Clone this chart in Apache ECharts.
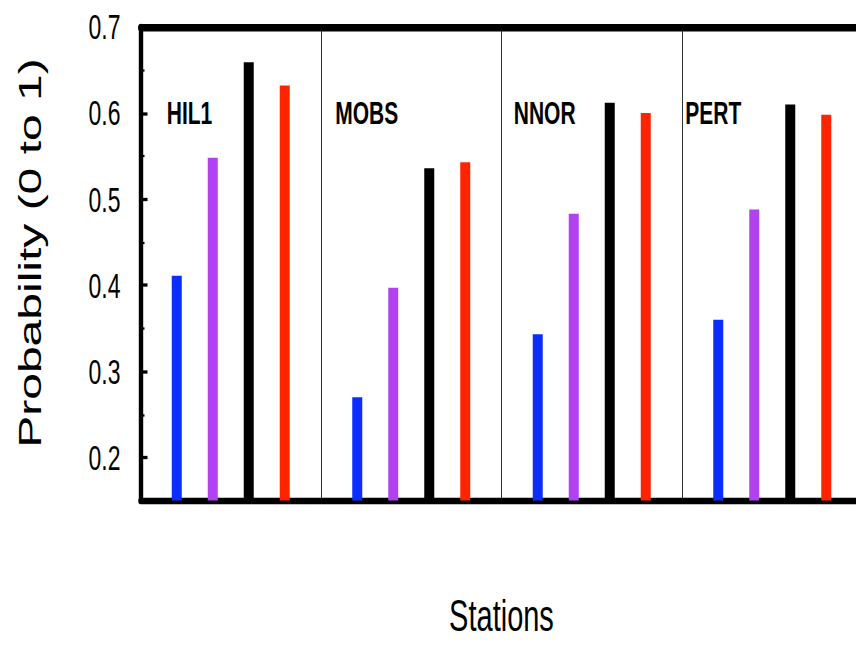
<!DOCTYPE html>
<html>
<head>
<meta charset="utf-8">
<script src="https://cdn.jsdelivr.net/npm/echarts@6/dist/echarts.min.js"></script>
<style>
  html, body { margin: 0; padding: 0; background: #fff; overflow: hidden; width: 856px; height: 646px; }
  /* the figure is drawn on a shorter canvas and stretched vertically */
  #chart { position: absolute; left: 0; top: 0; width: 900px; height: 430.667px;
           transform: scaleY(1.5); transform-origin: 0 0; }
</style>
</head>
<body>
<div id="chart"></div>
<script>
// Stations and probabilities for the four compared quantities
const stations = ['HIL1', 'MOBS', 'NNOR', 'PERT'];
const blueValues   = [0.411, 0.270, 0.343, 0.360];
const purpleValues = [0.548, 0.397, 0.483, 0.488];
const blackValues  = [0.659, 0.536, 0.612, 0.610];
const redValues    = [0.632, 0.543, 0.600, 0.598];

// y axis ticks
const majorTicks = [0.2, 0.3, 0.4, 0.5, 0.6, 0.7];
const minorTicks = [0.25, 0.35, 0.45, 0.55, 0.65];
const yMin = 0.15, yMax = 0.7;
const stationLabelLevel = 0.6;

// horizontal offset of each station label from its panel centre (px)
const stationLabelDx = [-64, -76, -78, -87];

const chart = echarts.init(document.getElementById('chart'), null, { renderer: 'svg' });

const tickFont = '"Liberation Sans", Arial, sans-serif';

function barSeries(name, values, color) {
  return {
    name: name,
    type: 'bar',
    data: values,
    barWidth: 10,
    barGap: '260%',
    itemStyle: { color: color },
    silent: true
  };
}

chart.setOption({
  animation: false,
  backgroundColor: '#fff',
  grid: { left: 140.5, right: 37.5, top: 18, bottom: 97.333 },
  xAxis: [
    {
      type: 'category',
      data: stations,
      position: 'bottom',
      axisLine: { show: true, lineStyle: { color: '#000', width: 4.4 } },
      axisTick: { show: false },
      axisLabel: { show: false },
      splitLine: { show: true, lineStyle: { color: '#333', width: 1 } },
      name: 'Stations',
      nameLocation: 'middle',
      nameGap: 63,
      nameTextStyle: { fontFamily: tickFont, fontSize: 29, color: '#000' }
    },
    {
      type: 'category',
      data: stations,
      position: 'top',
      axisLine: { show: true, lineStyle: { color: '#000', width: 4.9 } },
      axisTick: { show: false },
      axisLabel: { show: false },
      splitLine: { show: false }
    }
  ],
  yAxis: [
    {
      type: 'value',
      min: yMin,
      max: yMax,
      position: 'left',
      axisLine: { show: true, lineStyle: { color: '#000', width: 4.4 } },
      axisTick: {
        show: true, inside: true, length: 7,
        customValues: majorTicks,
        lineStyle: { color: '#000', width: 2.2 }
      },
      axisLabel: {
        show: true, margin: 20,
        customValues: majorTicks,
        formatter: v => v.toFixed(1),
        fontFamily: tickFont, fontSize: 23, color: '#000'
      },
      splitLine: { show: false }
    },
    {
      type: 'value',
      min: yMin,
      max: yMax,
      position: 'left',
      axisLine: { show: false },
      axisTick: {
        show: true, inside: true, length: 4,
        customValues: minorTicks,
        lineStyle: { color: '#000', width: 1.5 }
      },
      axisLabel: { show: false },
      splitLine: { show: false }
    }
  ],
  series: [
    barSeries('blue', blueValues, '#0b2eff'),
    barSeries('purple', purpleValues, '#b043ef'),
    barSeries('black', blackValues, '#000000'),
    barSeries('red', redValues, '#ff2400'),
    {
      type: 'scatter',
      symbolSize: 0,
      silent: true,
      itemStyle: { opacity: 1 },
      data: stations.map((s, i) => ({
        value: [s, stationLabelLevel],
        label: { offset: [stationLabelDx[i], 0] }
      })),
      label: {
        show: true,
        position: 'inside',
        align: 'left',
        verticalAlign: 'middle',
        formatter: p => p.value[0],
        fontFamily: tickFont, fontWeight: 'bold', fontSize: 21,
        color: '#000', opacity: 1, textBorderWidth: 0, textBorderColor: 'transparent'
      }
    }
  ],
  graphic: [
    {
      type: 'text',
      x: 30,
      y: 168.7,
      rotation: Math.PI / 2,
      style: {
        text: 'Probability (0 to 1)',
        fontFamily: tickFont, fontSize: 32, fill: '#000',
        textAlign: 'center', textVerticalAlign: 'middle'
      }
    }
  ]
});
</script>
</body>
</html>
